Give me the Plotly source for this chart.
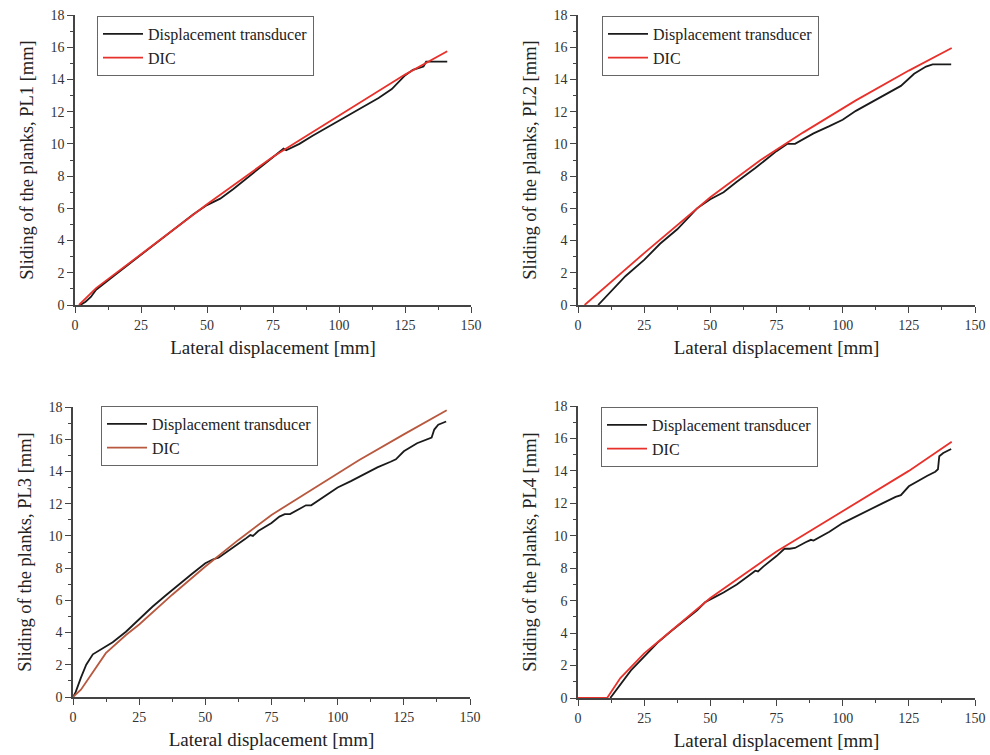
import plotly.graph_objects as go

# ---------------- data ----------------
pl1_dic_x = [1.5, 8, 25, 50, 75, 100, 125, 141]
pl1_dic_y = [0.0, 1.05, 3.15, 6.25, 9.2, 11.75, 14.3, 15.75]
pl1_dt_x = [2, 4, 6, 8, 15, 25, 35, 45, 50, 55, 60, 65, 70, 75, 79, 80, 85, 90, 100, 110, 115, 120, 125, 128, 130, 132, 133, 141]
pl1_dt_y = [0.0, 0.2, 0.5, 0.95, 1.85, 3.1, 4.35, 5.65, 6.2, 6.6, 7.2, 7.85, 8.55, 9.15, 9.7, 9.6, 10.0, 10.5, 11.45, 12.4, 12.85, 13.4, 14.25, 14.6, 14.7, 14.8, 15.1, 15.1]

pl2_dic_x = [2.5, 25, 50, 69, 85, 105, 125, 141.2]
pl2_dic_y = [0.0, 3.22, 6.69, 9.0, 10.7, 12.7, 14.55, 15.95]
pl2_dt_x = [7.6, 12, 18, 25, 31, 37.5, 45, 50, 55, 60, 67, 75, 79, 82, 89, 95, 100, 105, 110, 115, 120, 122, 127, 131.5, 134, 141]
pl2_dt_y = [0.0, 0.75, 1.8, 2.8, 3.8, 4.7, 6.0, 6.56, 7.0, 7.65, 8.5, 9.55, 10.0, 10.0, 10.65, 11.1, 11.5, 12.05, 12.5, 12.95, 13.4, 13.6, 14.35, 14.8, 14.93, 14.93]

pl3_dic_x = [0, 3, 12.4, 20, 25, 37.5, 50, 62.5, 75, 90, 108, 125, 141.2]
pl3_dic_y = [0.0, 0.45, 2.72, 3.85, 4.5, 6.35, 8.1, 9.75, 11.3, 12.85, 14.7, 16.3, 17.8]
pl3_dt_x = [0, 1, 3, 5, 7.5, 10, 15, 20, 25, 30, 35, 40, 45, 50, 53, 55, 60, 65, 67, 68, 70, 75, 78, 80, 82, 86, 88, 90, 95, 100, 105, 110, 115, 120, 122, 125, 130, 135.5, 136.5, 138, 141]
pl3_dt_y = [0.0, 0.3, 1.2, 2.0, 2.65, 2.9, 3.4, 4.05, 4.85, 5.6, 6.3, 7.0, 7.65, 8.3, 8.55, 8.65, 9.2, 9.8, 10.05, 10.0, 10.3, 10.8, 11.2, 11.35, 11.35, 11.7, 11.9, 11.9, 12.45, 13.0, 13.4, 13.85, 14.25, 14.6, 14.75, 15.25, 15.75, 16.1, 16.6, 16.9, 17.1]

pl4_dic_x = [0, 11, 16, 25, 30.5, 50, 75, 100, 125, 141.2]
pl4_dic_y = [0.0, 0.0, 1.23, 2.75, 3.5, 6.16, 9.03, 11.5, 14.0, 15.8]
pl4_dt_x = [12.2, 20, 25, 30, 35, 40, 45, 48, 50, 52, 55, 60, 65, 67, 68, 70, 75, 78, 80, 82, 86, 88, 89, 95, 100, 105, 110, 115, 120, 122, 125, 128, 132, 135, 136, 136.5, 138, 141]
pl4_dt_y = [0.0, 1.7, 2.55, 3.4, 4.1, 4.75, 5.4, 5.9, 6.1, 6.25, 6.5, 7.0, 7.6, 7.85, 7.8, 8.1, 8.75, 9.2, 9.2, 9.25, 9.6, 9.75, 9.7, 10.25, 10.78, 11.2, 11.6, 12.0, 12.4, 12.5, 13.05, 13.35, 13.7, 13.95, 14.1, 14.9, 15.1, 15.35]

panel_names = ["PL1", "PL2", "PL3", "PL4"]
dic_colors = ["#e8312b", "#e8312b", "#b8583f", "#e8312b"]
x_ticks = [0, 25, 50, 75, 100, 125, 150]
y_ticks = [0, 2, 4, 6, 8, 10, 12, 14, 16, 18]

series = [
    (pl1_dt_x, pl1_dt_y, pl1_dic_x, pl1_dic_y),
    (pl2_dt_x, pl2_dt_y, pl2_dic_x, pl2_dic_y),
    (pl3_dt_x, pl3_dt_y, pl3_dic_x, pl3_dic_y),
    (pl4_dt_x, pl4_dt_y, pl4_dic_x, pl4_dic_y),
]

W, H = 990, 755
# pixel boxes of plot areas: (x0, x1, ytop, ybottom)
boxes = [(75, 471, 15, 305), (578, 975, 15, 305), (73, 470, 407, 697), (578, 975, 406, 698)]
legend_pos = [(97, 16), (602, 16), (101, 406), (601, 407)]

FONT = "Liberation Serif"
AXC = "#444444"

fig = go.Figure()
layout = dict(
    width=W, height=H, margin=dict(l=0, r=0, t=0, b=0),
    paper_bgcolor="white", plot_bgcolor="white",
    font=dict(family=FONT, color="#222222"),
    showlegend=True,
)

for i, (dtx, dty, dcx, dcy) in enumerate(series):
    n = i + 1
    xa = "x" if n == 1 else f"x{n}"
    ya = "y" if n == 1 else f"y{n}"
    lg = "legend" if n == 1 else f"legend{n}"
    fig.add_trace(go.Scatter(x=dtx, y=dty, mode="lines", name="Displacement transducer",
                             line=dict(color="#1a1a1a", width=1.8), xaxis=xa, yaxis=ya, legend=lg))
    fig.add_trace(go.Scatter(x=dcx, y=dcy, mode="lines", name="DIC",
                             line=dict(color=dic_colors[i], width=1.8), xaxis=xa, yaxis=ya, legend=lg))
    x0, x1, yt, yb = boxes[i]
    xk = "xaxis" if n == 1 else f"xaxis{n}"
    yk = "yaxis" if n == 1 else f"yaxis{n}"
    layout[xk] = dict(
        domain=[x0 / W, x1 / W], anchor=ya, range=[0, 150],
        tickvals=x_ticks, ticktext=[str(v) for v in x_ticks],
        showline=True, linecolor=AXC, linewidth=1.5, ticks="outside", ticklen=6, tickwidth=1.3, tickcolor=AXC,
        minor=dict(ticks="outside", ticklen=3, dtick=12.5, tick0=0, tickcolor=AXC, tickwidth=1.2),
        showgrid=False, zeroline=False, tickfont=dict(size=14, family=FONT, color="#333333"),
        title=dict(text="Lateral displacement [mm]", font=dict(size=19, family=FONT, color="#222222"), standoff=9),
        automargin=False,
    )
    layout[yk] = dict(
        domain=[1 - yb / H, 1 - yt / H], anchor=xa, range=[0, 18],
        tickvals=y_ticks, ticktext=[str(v) for v in y_ticks],
        showline=True, linecolor=AXC, linewidth=1.5, ticks="outside", ticklen=6, tickwidth=1.3, tickcolor=AXC,
        minor=dict(ticks="outside", ticklen=3, dtick=1, tick0=0, tickcolor=AXC, tickwidth=1.2),
        showgrid=False, zeroline=False, tickfont=dict(size=14, family=FONT, color="#333333"),
        title=dict(text=f"Sliding of the planks, {panel_names[i]} [mm]", font=dict(size=18.5, family=FONT, color="#222222"), standoff=12),
        automargin=False,
    )
    lx, ly = legend_pos[i]
    layout[lg] = dict(
        x=lx / W, y=1 - ly / H, xanchor="left", yanchor="top",
        bgcolor="white", bordercolor="#666666", borderwidth=1,
        font=dict(size=16, family=FONT, color="#222222"),
        tracegroupgap=0, itemwidth=40,
    )

fig.update_layout(**layout)
fig.write_html("out.html", config={"displayModeBar": False},
               post_script="document.body.style.margin='0';document.body.style.overflow='hidden';")
